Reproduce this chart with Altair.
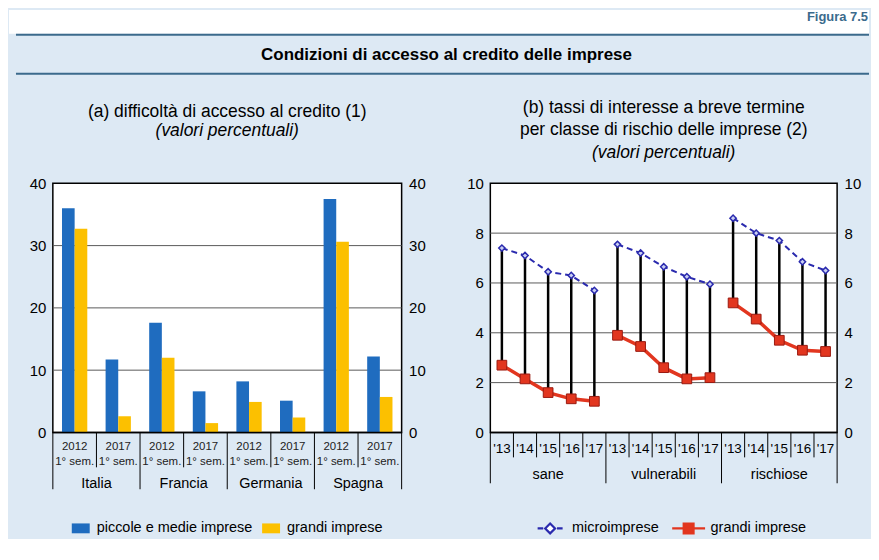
import altair as alt
import pandas as pd

# ------------------------------------------------------------------ data (a)
countries = ["Italia", "Francia", "Germania", "Spagna"]
periods = ["2012\n1° sem.", "2017\n1° sem."]
series_a = ["piccole e medie imprese", "grandi imprese"]
pmi_a = [36.0, 11.7, 17.6, 6.6, 8.2, 5.1, 37.5, 12.2]
grandi_a = [32.7, 2.6, 12.0, 1.5, 4.9, 2.4, 30.6, 5.7]
ticks_a = [0, 10, 20, 30, 40]

# ------------------------------------------------------------------ data (b)
classes = ["sane", "vulnerabili", "rischiose"]
years = ["'13", "'14", "'15", "'16", "'17"]
series_b = ["microimprese", "grandi imprese"]
micro_b = [7.4, 7.1, 6.45, 6.3, 5.7,
           7.55, 7.2, 6.65, 6.25, 5.95,
           8.6, 8.0, 7.7, 6.85, 6.5]
grandi_b = [2.7, 2.15, 1.6, 1.35, 1.25,
            3.9, 3.45, 2.6, 2.15, 2.2,
            5.2, 4.55, 3.7, 3.3, 3.25]
ticks_b = [0, 2, 4, 6, 8, 10]

# ------------------------------------------------------------------ style
FONT = "Liberation Sans"
BG = "#dde9f4"
BLUE = "#1f6cbf"
YELLOW = "#fcc000"
MBLUE = "#2a2aae"
RED = "#e2361f"
TEAL = "#3b6a8c"
GRID = "#5a5a5a"
W_A, W_B, H = 350, 348, 250
HW, HH = 819, 87      # header: x relative to left plot origin (page x = 52)

# ------------------------------------------------------------------ tables (a)
n_a = len(pmi_a)
rows = []
for s_idx, vals in enumerate([pmi_a, grandi_a]):
    for i, v in enumerate(vals):
        rows.append(dict(pos=i, country=countries[i // 2], period=periods[i % 2],
                         series=series_a[s_idx], sidx=s_idx, value=v))
df_bars = pd.DataFrame(rows)
df_periods = pd.DataFrame({"pos": list(range(n_a)),
                           "period": [periods[i % 2] for i in range(n_a)]})
df_countries = pd.DataFrame({"center": [2 * k + 0.5 for k in range(len(countries))],
                             "country": countries})
df_sep_s_a = pd.DataFrame({"b": [2 * k + 0.5 for k in range(len(countries))]})
df_sep_l_a = pd.DataFrame({"b": [2 * k - 0.5 for k in range(len(countries) + 1)]})
df_ticks_a = pd.DataFrame({"v": ticks_a})

# ------------------------------------------------------------------ tables (b)
n_b = len(micro_b)
ny = len(years)
df_wide = pd.DataFrame({"pos": list(range(n_b)),
                        "cls": [classes[i // ny] for i in range(n_b)],
                        "year": [years[i % ny] for i in range(n_b)],
                        "micro": micro_b, "grandi": grandi_b})
df_long = pd.concat([
    pd.DataFrame({"pos": list(range(n_b)), "cls": [classes[i // ny] for i in range(n_b)],
                  "series": series_b[0], "value": micro_b}),
    pd.DataFrame({"pos": list(range(n_b)), "cls": [classes[i // ny] for i in range(n_b)],
                  "series": series_b[1], "value": grandi_b}),
])
df_classes = pd.DataFrame({"center": [ny * k + (ny - 1) / 2 for k in range(len(classes))],
                           "cls": classes})
df_sep_s_b = pd.DataFrame({"b": [ny * k + j - 0.5 for k in range(len(classes)) for j in range(1, ny)]})
df_sep_l_b = pd.DataFrame({"b": [ny * k - 0.5 for k in range(len(classes) + 1)]})
df_ticks_b = pd.DataFrame({"v": ticks_b})

# ------------------------------------------------------------------ helpers
def yaxis(orient, values, min_extent=None):
    kw = dict(orient=orient, values=values, title=None, ticks=False, domain=False,
              grid=False, labelFont=FONT, labelFontSize=15, labelColor="black",
              labelPadding=7)
    if min_extent is not None:
        kw["minExtent"] = min_extent
    return alt.Axis(**kw)

xA = alt.Scale(domain=[-0.5, n_a - 0.5], nice=False, zero=False)
yA = alt.Scale(domain=[0, 40], nice=False)
xB = alt.Scale(domain=[-0.5, n_b - 0.5], nice=False, zero=False)
yB = alt.Scale(domain=[0, 10], nice=False)

# ------------------------------------------------------------------ panel (a)
BW = 0.29
grid_a = alt.Chart(df_ticks_a).transform_filter(
    "datum.v > 0 && datum.v < 40"
).mark_rule(color=GRID, strokeWidth=1).encode(
    y=alt.Y("v:Q", scale=yA, axis=yaxis("right", ticks_a)),
    x=alt.value(0), x2=alt.value(W_A),
)

bars = alt.Chart(df_bars).transform_calculate(
    x0=f"datum.pos + (datum.sidx - 1) * {BW}",
    x1=f"datum.pos + datum.sidx * {BW}",
).mark_bar().encode(
    x=alt.X("x0:Q", scale=xA, axis=None),
    x2="x1:Q",
    y=alt.Y("value:Q", scale=yA, axis=yaxis("left", ticks_a, 44)),
    y2=alt.datum(0),
    color=alt.Color("series:N", scale=alt.Scale(domain=series_a, range=[BLUE, YELLOW]),
                    legend=alt.Legend(title=None, orient="none", legendX=18, legendY=510,
                                      direction="horizontal",
                                      symbolType="M-1,-0.55H1V0.55H-1Z", symbolSize=324,
                                      labelFont=FONT, labelFontSize=14.5, labelColor="black",
                                      labelOffset=6, columnPadding=8)),
)

base_a = alt.Chart(pd.DataFrame({"v": [0]})).mark_rule(color="black", strokeWidth=1.5).encode(
    y=alt.Y("v:Q", scale=yA, axis=None))

per_lbl = alt.Chart(df_periods).mark_text(
    lineBreak="\n", baseline="top", align="center", font=FONT, fontSize=11.5,
    lineHeight=15, color="#222").encode(
    x=alt.X("pos:Q", scale=xA, axis=None), y=alt.value(259), text="period:N")

cty_lbl = alt.Chart(df_countries).mark_text(
    baseline="middle", align="center", font=FONT, fontSize=14.5, color="black").encode(
    x=alt.X("center:Q", scale=xA, axis=None), y=alt.value(302), text="country:N")

sep_s_a = alt.Chart(df_sep_s_a).mark_rule(color="black", strokeWidth=1).encode(
    x=alt.X("b:Q", scale=xA, axis=None), y=alt.value(H), y2=alt.value(285))
sep_l_a = alt.Chart(df_sep_l_a).mark_rule(color="black", strokeWidth=1).encode(
    x=alt.X("b:Q", scale=xA, axis=None), y=alt.value(H), y2=alt.value(307))

panel_a = alt.layer(grid_a, bars, base_a, per_lbl, cty_lbl, sep_s_a, sep_l_a).resolve_axis(
    y="independent"
).properties(
    width=W_A, height=H,
    view=alt.ViewBackground(fill="white", stroke="black", strokeWidth=1.5),
    title=alt.TitleParams(
        text=["(a) difficoltà di accesso al credito (1)"], subtitle=["(valori percentuali)"],
        font=FONT, fontSize=17.5, fontWeight="normal", color="black",
        subtitleFont=FONT, subtitleFontSize=17.5, subtitleFontStyle="italic",
        subtitleColor="black", anchor="middle", frame="group", offset=37,
        lineHeight=23, subtitleLineHeight=23, subtitlePadding=2),
)

# ------------------------------------------------------------------ panel (b)
grid_b = alt.Chart(df_ticks_b).transform_filter(
    "datum.v > 0 && datum.v < 10"
).mark_rule(color=GRID, strokeWidth=1).encode(
    y=alt.Y("v:Q", scale=yB, axis=yaxis("right", ticks_b)),
    x=alt.value(0), x2=alt.value(W_B),
)

stems = alt.Chart(df_wide).mark_rule(color="black", strokeWidth=2.5).encode(
    x=alt.X("pos:Q", scale=xB, axis=None),
    y=alt.Y("grandi:Q", scale=yB, axis=yaxis("left", ticks_b, 40)),
    y2="micro:Q",
)

# legend-only layer (no marks drawn: all rows filtered out, domain is explicit)
LEG_SHAPES = ["M-0.76,0H-0.42M0.42,0H0.76M0,-0.3L0.3,0L0,0.3L-0.3,0Z",
              "M-1,0H1M-0.3,-0.3H0.3V0.3H-0.3Z"]
leg_common = dict(title=None, orient="none", legendX=481, legendY=502, direction="horizontal",
                  symbolSize=1089, symbolStrokeWidth=2.2, labelFont=FONT, labelFontSize=14.5,
                  labelColor="black", labelOffset=4, columnPadding=8)
legend_layer = alt.Chart(df_long).transform_filter("false").mark_point(
    size=1089, opacity=1, strokeWidth=2.2).encode(
    x=alt.X("pos:Q", scale=xB, axis=None),
    y=alt.Y("value:Q", scale=yB, axis=None),
    shape=alt.Shape("series:N", scale=alt.Scale(domain=series_b, range=LEG_SHAPES),
                    legend=alt.Legend(**leg_common)),
    fill=alt.Fill("series:N", scale=alt.Scale(domain=series_b, range=["#ffffff", RED]),
                  legend=alt.Legend(**leg_common)),
    stroke=alt.Stroke("series:N", scale=alt.Scale(domain=series_b, range=[MBLUE, RED]),
                      legend=alt.Legend(**leg_common)),
)

micro_line = alt.Chart(df_long).transform_filter(
    alt.datum.series == series_b[0]
).mark_line(strokeWidth=2, strokeDash=[6, 4], color=MBLUE).encode(
    x=alt.X("pos:Q", scale=xB, axis=None),
    y=alt.Y("value:Q", scale=yB, axis=None),
    detail="cls:N",
)
micro_pts = alt.Chart(df_long).transform_filter(
    alt.datum.series == series_b[0]
).mark_point(shape="diamond", filled=True, size=40, fill="#c9cff2", stroke=MBLUE,
             strokeWidth=1.5, opacity=1).encode(
    x=alt.X("pos:Q", scale=xB, axis=None),
    y=alt.Y("value:Q", scale=yB, axis=None),
)
big_line = alt.Chart(df_long).transform_filter(
    alt.datum.series == series_b[1]
).mark_line(strokeWidth=3.5, color=RED).encode(
    x=alt.X("pos:Q", scale=xB, axis=None),
    y=alt.Y("value:Q", scale=yB, axis=None),
    detail="cls:N",
)
big_pts = alt.Chart(df_long).transform_filter(
    alt.datum.series == series_b[1]
).mark_point(shape="square", filled=True, size=95, fill=RED, stroke="#9a1a10",
             strokeWidth=1, opacity=1).encode(
    x=alt.X("pos:Q", scale=xB, axis=None),
    y=alt.Y("value:Q", scale=yB, axis=None),
)

base_b = alt.Chart(pd.DataFrame({"v": [0]})).mark_rule(color="black", strokeWidth=1.5).encode(
    y=alt.Y("v:Q", scale=yB, axis=None))

yr_lbl = alt.Chart(df_wide).mark_text(
    baseline="middle", align="center", font=FONT, fontSize=13.5, color="black").encode(
    x=alt.X("pos:Q", scale=xB, axis=None), y=alt.value(267), text="year:N")
cls_lbl = alt.Chart(df_classes).mark_text(
    baseline="middle", align="center", font=FONT, fontSize=14.5, color="black").encode(
    x=alt.X("center:Q", scale=xB, axis=None), y=alt.value(293), text="cls:N")
sep_s_b = alt.Chart(df_sep_s_b).mark_rule(color="black", strokeWidth=1).encode(
    x=alt.X("b:Q", scale=xB, axis=None), y=alt.value(H), y2=alt.value(275))
sep_l_b = alt.Chart(df_sep_l_b).mark_rule(color="black", strokeWidth=1).encode(
    x=alt.X("b:Q", scale=xB, axis=None), y=alt.value(H), y2=alt.value(301))

panel_b = alt.layer(grid_b, stems, legend_layer, micro_line, micro_pts, big_line, big_pts,
                    base_b, yr_lbl, cls_lbl, sep_s_b, sep_l_b).resolve_axis(
    y="independent"
).properties(
    width=W_B, height=H,
    view=alt.ViewBackground(fill="white", stroke="black", strokeWidth=1.5),
    title=alt.TitleParams(
        text=["(b) tassi di interesse a breve termine",
              "per classe di rischio delle imprese (2)"],
        subtitle=["(valori percentuali)"],
        font=FONT, fontSize=17.5, fontWeight="normal", color="black",
        subtitleFont=FONT, subtitleFontSize=17.5, subtitleFontStyle="italic",
        subtitleColor="black", anchor="middle", frame="group", offset=15,
        lineHeight=23, subtitleLineHeight=23, subtitlePadding=5),
)

# ------------------------------------------------------------------ header
hdr = alt.Chart(pd.DataFrame({"k": [0]}))
h_white = hdr.mark_rect(color="white").encode(
    x=alt.value(-44), x2=alt.value(HW), y=alt.value(0), y2=alt.value(24))
h_line1 = hdr.mark_rule(color=TEAL, strokeWidth=2).encode(
    x=alt.value(-37), x2=alt.value(HW), y=alt.value(25))
h_line2 = hdr.mark_rule(color=TEAL, strokeWidth=2).encode(
    x=alt.value(-37), x2=alt.value(HW), y=alt.value(64))
h_fig = hdr.mark_text(text="Figura 7.5", align="right", baseline="middle", font=FONT,
                      fontSize=13, fontWeight="bold", color=TEAL).encode(
    x=alt.value(HW - 1), y=alt.value(7))
h_title = hdr.mark_text(text="Condizioni di accesso al credito delle imprese",
                        align="center", baseline="middle", font=FONT, fontSize=17,
                        fontWeight="bold", color="black").encode(
    x=alt.value(395), y=alt.value(45))
header = alt.layer(h_white, h_line1, h_line2, h_fig, h_title).properties(
    width=HW, height=HH,
    view=alt.ViewBackground(fill="transparent", stroke="transparent"),
)

chart = alt.vconcat(
    header,
    alt.hconcat(panel_a, panel_b, spacing=23),
    spacing=0,
).properties(
    padding={"left": 0, "top": 0, "right": 0, "bottom": 0},
    background=BG,
).configure_view(stroke="transparent")

chart.save("out.html", embed_options={"renderer": "svg", "actions": False})
